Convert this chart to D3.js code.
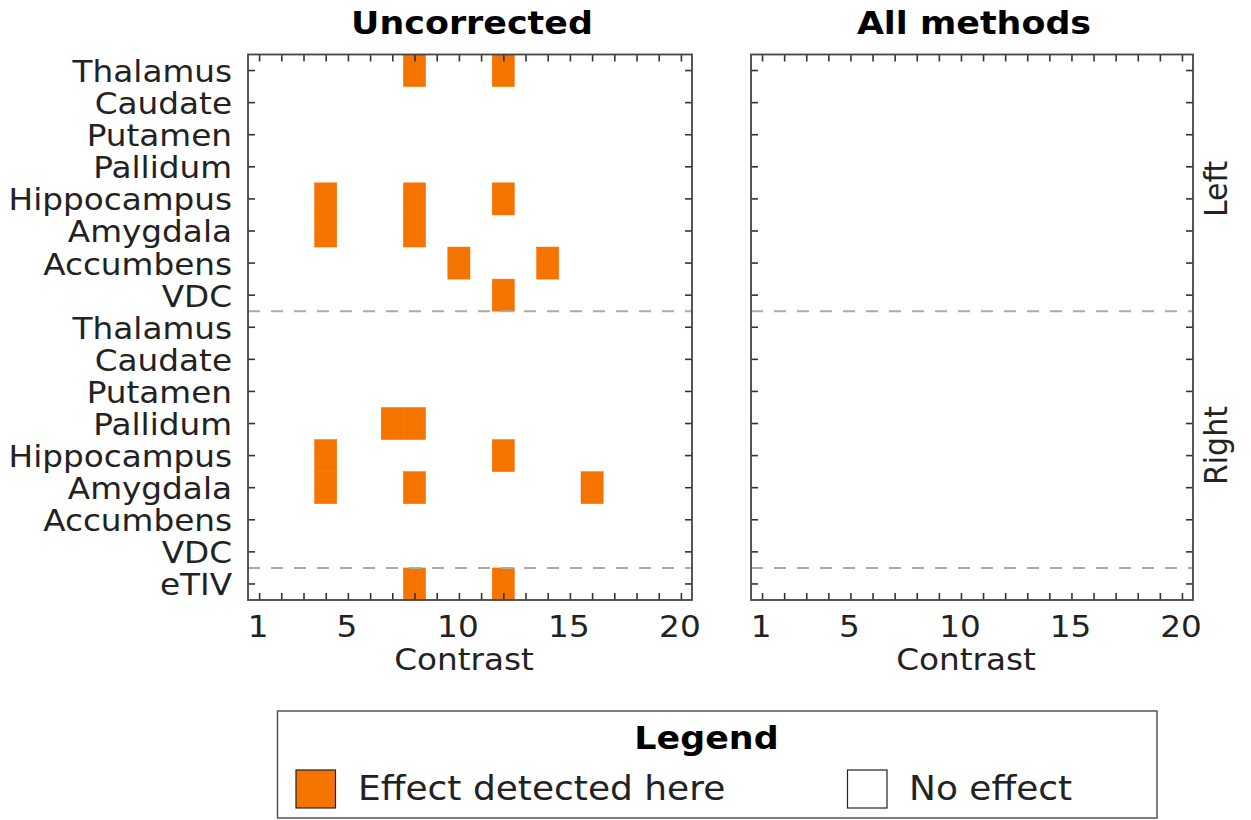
<!DOCTYPE html>
<html>
<head>
<meta charset="utf-8">
<script src="https://cdn.jsdelivr.net/npm/d3@7"></script>
<style>
  html, body { margin: 0; padding: 0; background: #ffffff; }
  svg { display: block; font-family: "DejaVu Sans", sans-serif; }
</style>
</head>
<body>
<svg id="chart" width="1251" height="820"></svg>
<script>
// ---- data -------------------------------------------------------------
const structures = ["Thalamus", "Caudate", "Putamen", "Pallidum", "Hippocampus", "Amygdala", "Accumbens", "VDC"];
const hemispheres = ["Left", "Right"];
const globalMeasures = ["eTIV"];
const contrastTicks = [1, 2, 3, 4, 5, 6, 7, 8, 9, 10, 11, 12, 13, 14, 15, 16, 17, 18, 19, 20];
const contrastLabels = [1, 5, 10, 15, 20];
const panelTitles = ["Uncorrected", "All methods"];

// significant cells: [hemisphere, structure, contrast]
const uncorrectedHits = [
  ["Left", "Thalamus", 8], ["Left", "Thalamus", 12],
  ["Left", "Hippocampus", 4], ["Left", "Hippocampus", 8], ["Left", "Hippocampus", 12],
  ["Left", "Amygdala", 4], ["Left", "Amygdala", 8],
  ["Left", "Accumbens", 10], ["Left", "Accumbens", 14],
  ["Left", "VDC", 12],
  ["Right", "Pallidum", 7], ["Right", "Pallidum", 8],
  ["Right", "Hippocampus", 4], ["Right", "Hippocampus", 12],
  ["Right", "Amygdala", 4], ["Right", "Amygdala", 8], ["Right", "Amygdala", 16],
  ["Global", "eTIV", 8], ["Global", "eTIV", 12]
];
const allMethodsHits = [];

const legendItems = ["Effect detected here", "No effect"];

// ---- layout -----------------------------------------------------------
const W = 1251, H = 820;
const plotTop = 54.5, plotBottom = 600;
const panels = [
  { title: panelTitles[0], left: 248, right: 692, hits: uncorrectedHits, yLabels: true },
  { title: panelTitles[1], left: 751, right: 1193, hits: allMethodsHits, yLabels: false }
];
const ORANGE = "#f57400";
const TEXT = "#222222";
const FRAME = "#444444";
const SX = 1.09; // horizontal glyph stretch

const rows = [];
hemispheres.forEach(h => structures.forEach(s => rows.push({ id: h + "|" + s, label: s })));
globalMeasures.forEach(g => rows.push({ id: "Global|" + g, label: g }));

const svg = d3.select("#chart");
svg.append("rect").attr("width", W).attr("height", H).attr("fill", "#ffffff");

function stretchedText(g, x, y, str, opts) {
  return g.append("text")
    .attr("transform", `translate(${x},${y}) scale(${opts.sx || SX},1)`)
    .attr("text-anchor", opts.anchor || "middle")
    .attr("font-size", opts.size)
    .attr("font-weight", opts.weight || "normal")
    .attr("fill", opts.fill || TEXT)
    .text(str);
}

const yScale = d3.scaleBand().domain(rows.map(r => r.id)).range([plotTop, plotBottom]).padding(0);

panels.forEach(p => {
  const x = d3.scaleLinear().domain([0.5, 20.5]).range([p.left, p.right]);
  const g = svg.append("g");

  // effect cells
  g.selectAll("rect.cell")
    .data(p.hits)
    .join("rect")
    .attr("class", "cell")
    .attr("x", d => x(d[2] - 0.5))
    .attr("width", d => x(d[2] + 0.5) - x(d[2] - 0.5))
    .attr("y", d => yScale(d[0] + "|" + d[1]))
    .attr("height", yScale.bandwidth())
    .attr("fill", ORANGE)
    .attr("stroke", ORANGE)
    .attr("stroke-width", 0.5);

  // separators between left / right / global blocks
  const seps = [yScale("Right|" + structures[0]), yScale("Global|" + globalMeasures[0])];
  g.selectAll("line.sep")
    .data(seps)
    .join("line")
    .attr("class", "sep")
    .attr("x1", p.left).attr("x2", p.right)
    .attr("y1", d => d).attr("y2", d => d)
    .attr("stroke", "#aaaaaa")
    .attr("stroke-width", 2)
    .attr("stroke-dasharray", "12,11");

  // inward ticks on all four sides
  const tickLen = 7;
  const axes = [
    { axis: d3.axisBottom(x).tickValues(contrastTicks), tr: `translate(0,${plotBottom})` },
    { axis: d3.axisTop(x).tickValues(contrastTicks), tr: `translate(0,${plotTop})` },
    { axis: d3.axisLeft(yScale), tr: `translate(${p.left},0)` },
    { axis: d3.axisRight(yScale), tr: `translate(${p.right},0)` }
  ];
  axes.forEach(a => {
    const ag = g.append("g").attr("transform", a.tr)
      .call(a.axis.tickSizeInner(-tickLen).tickSizeOuter(0).tickFormat(""));
    ag.select(".domain").remove();
    ag.selectAll(".tick line").attr("stroke", "#333333").attr("stroke-width", 1.6);
    ag.selectAll(".tick text").remove();
  });

  // frame
  g.append("rect")
    .attr("x", p.left).attr("y", plotTop)
    .attr("width", p.right - p.left).attr("height", plotBottom - plotTop)
    .attr("fill", "none").attr("stroke", FRAME).attr("stroke-width", 1.8);

  // x tick labels and axis title
  contrastLabels.forEach(v => stretchedText(g, x(v) - 1, 637, String(v), { size: 30 }));
  stretchedText(g, (p.left + p.right) / 2 - 6, 670, "Contrast", { size: 30 });

  // panel title
  stretchedText(g, (p.left + p.right) / 2 + 2, 34, p.title, { size: 32, weight: "bold", fill: "#000000" });

  // row labels
  if (p.yLabels) {
    rows.forEach(r => stretchedText(g, p.left - 16, yScale(r.id) + yScale.bandwidth() / 2 + 11.5, r.label,
      { size: 30, anchor: "end" }));
  }
});

// hemisphere labels to the right of the last panel
const lastRight = panels[panels.length - 1].right;
hemispheres.forEach(h => {
  const y0 = yScale(h + "|" + structures[0]);
  const y1 = yScale(h + "|" + structures[structures.length - 1]) + yScale.bandwidth();
  svg.append("text")
    .attr("transform", `translate(${lastRight + 34},${(y0 + y1) / 2 + 6}) rotate(-90) scale(1,${SX})`)
    .attr("text-anchor", "middle")
    .attr("font-size", 30)
    .attr("fill", TEXT)
    .text(h);
});

// legend
const lg = svg.append("g");
lg.append("rect")
  .attr("x", 277.5).attr("y", 711).attr("width", 879.5).attr("height", 107)
  .attr("fill", "#ffffff").attr("stroke", "#555555").attr("stroke-width", 1.5);
stretchedText(lg, 706.5, 749, "Legend", { size: 32, weight: "bold", fill: "#000000" });
const swatches = [
  { x: 296, fill: ORANGE, tx: 358, label: legendItems[0] },
  { x: 847.5, fill: "#ffffff", tx: 909, label: legendItems[1] }
];
swatches.forEach(s => {
  lg.append("rect")
    .attr("x", s.x).attr("y", 770).attr("width", 39.5).attr("height", 38)
    .attr("fill", s.fill).attr("stroke", "#222222").attr("stroke-width", 1.2);
  stretchedText(lg, s.tx, 800, s.label, { size: 33, anchor: "start" });
});
</script>
</body>
</html>
